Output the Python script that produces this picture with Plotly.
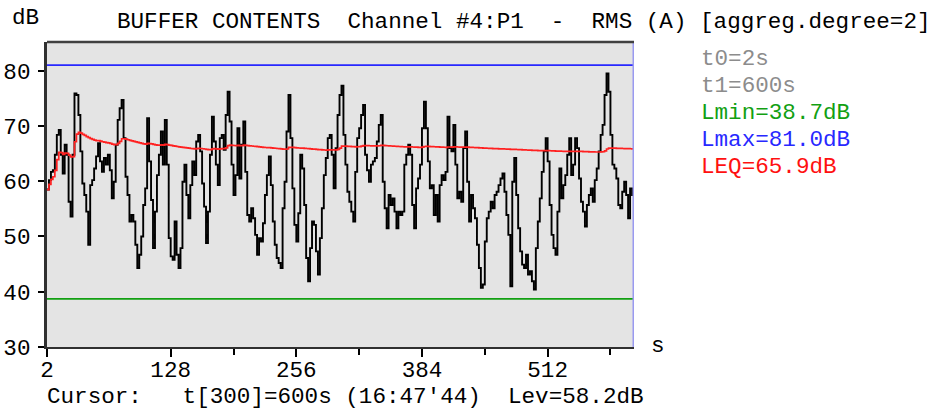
import numpy as np
import plotly.graph_objects as go

# ---- data ----
t_start, t_step, n_points = 2, 2, 300
times = list(range(t_start, t_start + t_step * n_points, t_step))  # 2..600 s

levels_part1 = [
    58.5, 60.2, 61.7, 62.0, 64.8, 68.4, 69.3, 64.8, 61.4, 66.6,
    64.8, 56.3, 53.6, 64.8, 75.9, 75.6, 72.0, 65.4, 59.6, 57.5,
    54.5, 48.5, 59.3, 60.2, 62.3, 64.5, 66.9, 63.6, 61.7, 64.2,
    63.0, 64.8, 62.0, 56.9, 59.9, 66.6, 71.1, 73.2, 74.7, 67.8,
    60.8, 57.5, 52.7, 53.9, 52.7, 48.5, 44.3, 46.7, 50.0, 55.7,
    58.7, 71.4, 63.6, 56.6, 47.9, 54.5, 61.1, 64.8, 69.0, 63.0,
    71.1, 63.0, 49.7, 46.4, 45.8, 52.7, 46.7, 44.3, 47.9, 59.9,
    63.0, 57.5, 53.3, 59.3, 63.6, 61.1, 67.2, 68.4, 65.4, 59.6,
    55.4, 48.8, 54.5, 64.8, 71.7, 67.2, 63.0, 59.3, 67.8, 68.4,
    65.7, 72.0, 76.2, 70.8, 63.0, 57.5, 61.1, 69.6, 60.5, 66.6,
]
levels_part2 = [
    70.8, 61.7, 53.9, 52.7, 55.1, 53.3, 50.3, 46.7, 49.7, 49.1,
    52.4, 57.5, 61.1, 64.5, 59.3, 52.7, 48.5, 46.1, 45.2, 44.3,
    55.1, 59.9, 69.0, 75.6, 67.8, 58.7, 52.1, 49.1, 54.2, 64.8,
    62.3, 55.7, 46.1, 41.9, 47.9, 52.7, 52.1, 47.3, 43.1, 49.7,
    55.1, 61.1, 64.2, 67.8, 68.4, 64.8, 58.7, 66.0, 72.0, 75.6,
    77.3, 68.4, 63.0, 58.1, 56.3, 54.5, 52.7, 61.7, 67.8, 69.6,
    72.0, 73.8, 64.8, 62.0, 59.9, 63.0, 63.6, 64.2, 67.2, 70.2,
    72.0, 59.9, 55.1, 51.5, 57.5, 55.7, 56.9, 54.5, 51.5, 54.5,
    53.9, 54.5, 63.0, 64.8, 66.6, 64.8, 55.7, 51.5, 58.7, 60.5,
    63.0, 69.6, 74.4, 69.6, 63.6, 58.7, 59.3, 53.9, 57.5, 52.7,
]
levels_part3 = [
    59.3, 61.1, 60.2, 61.7, 71.7, 66.0, 65.4, 70.2, 63.0, 56.9,
    58.1, 56.3, 66.0, 69.0, 59.9, 52.7, 57.5, 55.1, 53.3, 48.5,
    44.3, 40.7, 41.3, 49.1, 53.3, 54.5, 56.3, 55.1, 57.5, 58.1,
    59.3, 60.5, 61.4, 58.1, 53.9, 50.3, 41.0, 59.9, 64.2, 57.5,
    51.5, 47.3, 44.9, 44.3, 46.7, 43.1, 43.7, 41.9, 40.4, 47.9,
    52.7, 56.9, 61.7, 65.4, 67.8, 63.6, 55.7, 50.3, 47.9, 46.7,
    54.5, 62.3, 56.9, 59.3, 61.1, 64.8, 67.8, 61.1, 63.0, 67.8,
    66.0, 60.5, 56.3, 54.5, 51.8, 55.7, 57.5, 58.7, 56.3, 60.2,
    62.3, 65.4, 68.4, 70.2, 75.6, 79.5, 76.2, 68.4, 63.0, 62.3,
    60.5, 55.7, 55.1, 58.1, 59.9, 57.5, 53.3, 58.7, 57.5, 58.2,
]
levels = levels_part1 + levels_part2 + levels_part3

L_min = 38.7
L_max = 81.0
LEQ_final = 65.9
t0_label, t1_label = "2s", "600s"
cursor_index, cursor_time, cursor_clock, cursor_level = 300, 600, "16:47'44", 58.2

x_ticks = [2, 128, 256, 384, 512]
x_minor = [192, 320, 448, 576]
y_ticks = [30, 40, 50, 60, 70, 80]
y_range = [30, 85.2]

# running equivalent level (LEQ) computed from the levels
lv = np.array(levels)
leq_running = 10 * np.log10(np.cumsum(10 ** (lv / 10)) / np.arange(1, len(lv) + 1))

# ---- layout geometry (pixels) ----
W, H = 936, 409
L, R, T, B = 47, 634, 42, 347
pw, ph = R - L, B - T


def px(x):
    return (x - L) / pw


def py(y):
    return (B - y) / ph


FONT = "Liberation Mono"
FS = 22.6

fig = go.Figure()

fig.add_trace(go.Scatter(x=[times[0], times[-1]], y=[L_max, L_max], mode="lines",
                         line=dict(color="#2828ff", width=1.7), hoverinfo="skip"))
fig.add_trace(go.Scatter(x=[times[0], times[-1]], y=[L_min, L_min], mode="lines",
                         line=dict(color="#12a012", width=1.7), hoverinfo="skip"))
fig.add_trace(go.Scatter(x=times, y=levels, mode="lines",
                         line=dict(color="#000000", width=1.9, shape="hv")))
fig.add_trace(go.Scatter(x=times, y=leq_running, mode="lines",
                         line=dict(color="#ff2020", width=1.7, shape="hv")))
# cursor line at right edge
fig.add_trace(go.Scatter(x=[cursor_time, cursor_time], y=y_range, mode="lines",
                         line=dict(color="#9a9af0", width=3), hoverinfo="skip"))

# top border
fig.add_shape(type="line", xref="paper", yref="paper", x0=0, x1=1, y0=1, y1=1,
              line=dict(color="#404040", width=2.5))

ann = []


def add_text(text, x, y, color="#000000", xanchor="left"):
    ann.append(dict(text=text, x=px(x), y=py(y), xref="paper", yref="paper",
                    xanchor=xanchor, yanchor="middle", showarrow=False,
                    font=dict(family=FONT, size=FS, color=color)))


add_text("dB", 10, 18)
add_text("BUFFER CONTENTS  Channel #4:P1  -  RMS (A) [aggreg.degree=2]", 115, 22)
add_text(f"t0={t0_label}", 699, 59, "#8c8c8c")
add_text(f"t1={t1_label}", 699, 86, "#8c8c8c")
add_text(f"Lmin={L_min:.1f}dB", 699, 113, "#12a012")
add_text(f"Lmax={L_max:.1f}dB", 699, 140, "#2828ff")
add_text(f"LEQ={LEQ_final:.1f}dB", 699, 167, "#ff1010")
add_text("s", 649, 346)
add_text(f"Cursor:   t[{cursor_index}]={cursor_time}s ({cursor_clock})  Lev={cursor_level:.1f}dB", 45, 397)

fig.update_layout(
    width=W, height=H,
    margin=dict(l=L, r=W - R, t=T, b=H - B, pad=0, autoexpand=False),
    paper_bgcolor="#ffffff",
    plot_bgcolor="#e4e4e4",
    showlegend=False,
    annotations=ann,
    font=dict(family=FONT, size=FS, color="#000000"),
)
fig.update_xaxes(range=[times[0], times[-1]], tickvals=x_ticks, ticktext=[str(v) for v in x_ticks],
                 ticks="outside", ticklen=8, tickwidth=1.5, tickcolor="#000000",
                 showline=True, linecolor="#303030", linewidth=2,
                 showgrid=False, zeroline=False, automargin=False,
                 ticklabelstandoff=-7,
                 minor=dict(tickvals=x_minor, ticks="outside", ticklen=6, tickwidth=1.5, tickcolor="#000000"),
                 tickfont=dict(family=FONT, size=FS))
fig.update_yaxes(range=y_range, tickvals=y_ticks, ticks="outside", ticklen=6,
                 tickwidth=1.5, tickcolor="#000000",
                 showline=True, linecolor="#303030", linewidth=3,
                 showgrid=False, zeroline=False, automargin=False,
                 ticklabelstandoff=3,
                 tickfont=dict(family=FONT, size=FS))

fig.write_html("out.html", config={"displayModeBar": False},
               post_script="document.body.style.margin='0';document.body.style.overflow='hidden';")
